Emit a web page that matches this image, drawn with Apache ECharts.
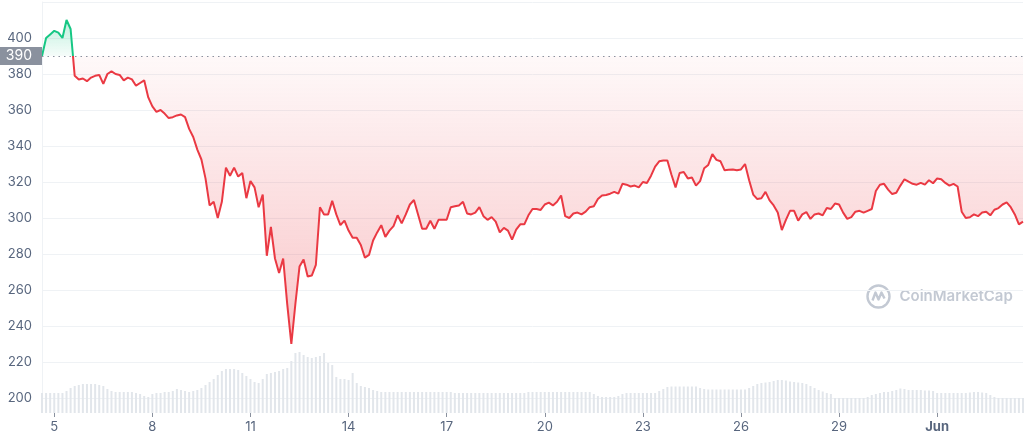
<!DOCTYPE html>
<html lang="en">
  <head>
    <meta charset="UTF-8" />
    <title>BNB price</title>
    <script src="https://cdn.jsdelivr.net/npm/echarts@6/dist/echarts.min.js"></script>
    <style>
      html,
      body {
        width: 100%;
        height: 100%;
        margin: 0;
        padding: 0;
        background: #fff;
      }
      #main {
        width: 1024px;
        height: 441px;
      }
    </style>
  </head>
  <body>
    <div id="main"></div>
    <script type="text/javascript">
      // x is in days counted from 5 May 2022 00:00 UTC; 3-hourly samples from 4 May 15:00
      var startDay = -0.375;
      var stepDay = 0.125;
      var baseline = 390;

      var prices = [
        390, 400, 402, 404, 403, 400, 410, 405, 379, 377, 377.5, 376, 378, 379, 379.5, 374.5,
        380, 381.5, 380, 379.5, 376.5, 378, 377, 373.5, 375, 376.5, 367, 362, 359, 360, 358, 355.5,
        356, 357, 357.5, 356, 349.5, 345, 338, 332.5, 322, 307, 309, 300, 309, 328,
        323.5, 328, 323, 325, 311, 320.5, 317, 306, 313, 279, 295, 277.5, 269.5, 277.5, 252, 230,
        252.5, 273, 277, 267.5, 268, 274, 306, 302, 302, 309.5, 302, 296, 298.5, 293, 289, 289,
        285, 278, 279.5, 287.5, 292, 296, 289.5, 293, 295.5, 301.5, 297, 302, 307.5, 310, 302, 294,
        294, 298.5, 294, 299, 299, 299, 306, 306.5, 307, 309, 302.5, 302, 303, 306, 301, 299,
        300.5, 298, 292, 294.5, 293, 288, 293.5, 296.5, 296.5, 301.5, 305, 305, 304.5, 307.5, 308.5, 307,
        309, 312.5, 301, 300, 302.5, 303, 302, 303.5, 306, 306.5, 310.5, 312.5, 312.8, 313.5, 314.5, 313.5,
        319, 318.5, 317.5, 318, 317, 320, 319.5, 323.5, 328.5, 331.5, 332, 332, 324, 317, 325, 325.6,
        322, 322.5, 318, 320.5, 327.6, 329.5, 335.5, 332.3, 331.5, 326.5, 326.8, 327, 326.5, 327, 330, 321,
        313, 310.5, 311, 314.5, 309.8, 307, 303, 293.3, 299, 304, 304, 298.5, 302, 303.3, 299.5, 302,
        302.5, 301.5, 305.5, 305, 308, 307.5, 303, 299.5, 300.5, 303.5, 304, 303, 304, 305, 315, 318.5,
        319, 315.8, 313.3, 314, 318, 321.5, 320.2, 319, 318.5, 319.5, 318.5, 321, 319.3, 322, 321.5, 319.5,
        318, 319, 317.5, 303.5, 300, 300.4, 302, 301, 303, 303.5, 301.5, 304.6, 305.5, 307.5, 308.7, 306,
        302, 296.5, 298
      ];

      // relative trading volume per sample
      var volumes = [
        20, 20, 20, 20, 20, 20, 22, 25, 27, 28, 29, 29, 29, 29, 28, 27,
        24, 22, 21, 21, 21, 21, 21, 20, 19, 17, 16, 19, 20, 20, 21, 21,
        22, 24, 23, 22, 21, 22, 23, 25, 28, 31, 34, 38, 42, 44, 44, 44,
        43, 40, 37, 34, 31, 30, 34, 39, 40, 41, 42, 44, 45, 52, 60, 61,
        58, 56, 55, 56, 57, 60, 50, 48, 36, 34, 34, 33, 40, 30, 27, 26,
        25, 23, 22, 21, 21, 21, 21, 21, 21, 21, 21, 21, 21, 21, 21, 21,
        21, 21, 21, 21, 21, 20, 20, 20, 20, 20, 20, 20, 20, 20, 20, 20,
        20, 20, 20, 20, 20, 20, 20, 21, 21, 21, 21, 21, 21, 21, 21, 21,
        21, 21, 21, 21, 21, 21, 21, 19, 17, 16, 16, 16, 16, 17, 19, 20,
        20, 20, 20, 20, 20, 20, 20, 22, 24, 26, 26.5, 26.5, 26.5, 26.5, 26.5, 26.5,
        26.5, 25, 24, 23.5, 23.5, 23.5, 23.5, 23.5, 23.5, 23.5, 23.5, 23.5, 23.5, 25, 27,
        29, 30, 30.5, 31, 32, 33, 33, 32.5, 31.5, 31, 30.5, 30, 29, 27, 25, 23,
        21.5, 20, 19, 15, 15, 15, 15, 15, 15, 15, 15, 16, 18, 19, 20, 21,
        21, 22, 23, 24.5, 24, 23, 23, 23, 23, 22.5, 22.5, 22, 20, 20, 20, 20,
        20, 20, 20, 20, 20.5, 21, 21, 20.5, 20, 18, 16, 15, 15, 15, 15, 15,
        15, 15, 15
      ];

      var priceTicks = [200, 220, 240, 260, 280, 300, 320, 340, 360, 380, 400];
      var dayTicks = [0, 3, 6, 9, 12, 15, 18, 21, 24, 27];
      var dayNames = ["5", "8", "11", "14", "17", "20", "23", "26", "29", "Jun"];

      var priceData = prices.map(function (v, i) {
        return [startDay + i * stepDay, v];
      });
      var volumeData = volumes.map(function (v, i) {
        return [startDay + i * stepDay, v];
      });
      var xMin = startDay;
      var xMax = startDay + (prices.length - 1) * stepDay;

      var green = "#16c784";
      var red = "#ea3943";
      var labelColor = "#58667e";

      // price grid: 420 at top (2px), 200 at bottom (398px)
      var gridTop = 2;
      var gridBottomPx = 398;
      var yMin = 200;
      var yMax = 420;
      var H = 441;
      var splitAt = (gridTop + ((yMax - baseline) / (yMax - yMin)) * (gridBottomPx - gridTop)) / H;

      var myChart = echarts.init(document.getElementById("main"));
      var option = {
        animation: false,
        textStyle: { fontFamily: "Inter" },
        grid: [
          { left: 42, right: 1, top: gridTop, bottom: H - gridBottomPx },
          { left: 42, right: 1, top: 313, bottom: 28 },
        ],
        xAxis: [
          { type: "value", gridIndex: 0, min: xMin, max: xMax, show: false, splitLine: { show: false } },
          {
            type: "value",
            gridIndex: 1,
            min: xMin,
            max: xMax,
            axisLine: { show: false },
            splitLine: { show: false },
            axisTick: {
              show: true,
              length: 4,
              customValues: dayTicks,
              lineStyle: { color: "#8a919e" },
            },
            axisLabel: {
              customValues: dayTicks,
              color: labelColor,
              fontSize: 13,
              margin: 8,
              formatter: function (val) {
                var name = dayNames[dayTicks.indexOf(val)];
                return name === "Jun" ? "{b|Jun}" : name;
              },
              rich: { b: { fontWeight: "bold", fontSize: 13, color: "#58667e" } },
            },
          },
        ],
        yAxis: [
          {
            type: "value",
            gridIndex: 0,
            min: yMin,
            max: yMax,
            interval: 20,
            axisLine: { show: true, onZero: false, lineStyle: { color: "#eff2f5" } },
            axisTick: { show: false },
            splitLine: { lineStyle: { color: "#eff2f5" } },
            axisLabel: {
              color: labelColor,
              fontSize: 13,
              margin: 10,
              formatter: function (v) {
                return priceTicks.indexOf(v) >= 0 ? String(v) : "";
              },
            },
          },
          {
            type: "value",
            gridIndex: 1,
            min: 0,
            max: 100,
            show: false,
            splitLine: { show: false },
          },
        ],
        series: [
          {
            name: "Volume",
            type: "bar",
            xAxisIndex: 1,
            yAxisIndex: 1,
            barWidth: 2,
            itemStyle: { color: "#e2e6eb" },
            data: volumeData,
            silent: true,
          },
          {
            name: "Price",
            type: "line",
            xAxisIndex: 0,
            yAxisIndex: 0,
            showSymbol: false,
            clip: false,
            lineStyle: {
              width: 2,
              color: {
                type: "linear",
                x: 0,
                y: 0,
                x2: 0,
                y2: H,
                global: true,
                colorStops: [
                  { offset: 0, color: green },
                  { offset: splitAt, color: green },
                  { offset: splitAt, color: red },
                  { offset: 1, color: red },
                ],
              },
            },
            areaStyle: {
              origin: baseline,
              opacity: 1,
              color: {
                type: "linear",
                x: 0,
                y: 0,
                x2: 0,
                y2: H,
                global: true,
                colorStops: [
                  { offset: 0.03, color: "rgba(22,199,132,0.32)" },
                  { offset: splitAt, color: "rgba(22,199,132,0.04)" },
                  { offset: splitAt, color: "rgba(234,57,67,0.03)" },
                  { offset: 0.8, color: "rgba(234,57,67,0.3)" },
                ],
              },
            },
            markLine: {
              silent: true,
              symbol: "none",
              lineStyle: { type: [1.5, 4], color: "#8a919e", width: 1.2 },
              label: {
                show: true,
                position: "start",
                distance: 0,
                formatter: String(baseline),
                color: "#fff",
                fontSize: 14,
                backgroundColor: "#8a919e",
                padding: [2, 10, 2, 10],
              },
              data: [{ yAxis: baseline }],
            },
            data: priceData,
          },
        ],
        graphic: [
          {
            type: "group",
            left: 865,
            top: 283,
            silent: true,
            children: [
              {
                type: "circle",
                shape: { cx: 12, cy: 12, r: 11 },
                style: { fill: "none", stroke: "#c3c9d3", lineWidth: 2.4 },
              },
              {
                type: "polyline",
                shape: { points: [[6, 16], [9, 8], [12, 15], [15, 8], [18, 14]] },
                style: { fill: "none", stroke: "#c3c9d3", lineWidth: 2.4, lineJoin: "round" },
              },
              {
                type: "text",
                x: 33,
                y: 12,
                style: {
                  text: "CoinMarketCap",
                  fill: "#c3c9d3",
                  font: "600 15px Inter",
                  verticalAlign: "middle",
                },
              },
            ],
          },
        ],
      };
      myChart.setOption(option);
    </script>
  </body>
</html>
